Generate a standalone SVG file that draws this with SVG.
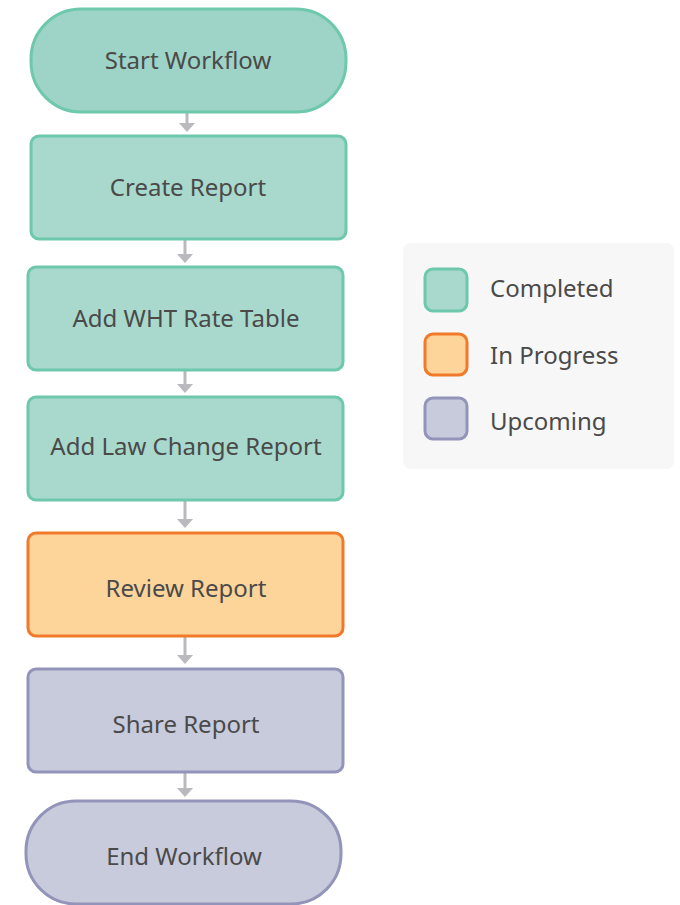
<svg xmlns="http://www.w3.org/2000/svg" width="680" height="905" viewBox="0 0 680 905">
<defs>
<style>
.lbl{font-family:"Noto Sans","Liberation Sans",sans-serif;font-size:24px;fill:#4a4a4a;text-anchor:middle}
.leg{font-family:"Noto Sans","Liberation Sans",sans-serif;font-size:24px;fill:#4a4a4a}
.done{fill:#a8d9cc;stroke:#6ec8ab;stroke-width:3}
.start{fill:#9dd4c7;stroke:#6ec8ab;stroke-width:3}
.prog{fill:#fdd49a;stroke:#f07a2a;stroke-width:3}
.up{fill:#c8cbdb;stroke:#9394b9;stroke-width:3}
.conn{stroke:#b9b9be;stroke-width:3;fill:none}
.head{fill:#b9b9be}
</style>
</defs>
<rect width="680" height="905" fill="#ffffff"/>
<g id="connectors">
<line class="conn" x1="187" y1="112" x2="187" y2="124"/><polygon class="head" points="179,123 195,123 187,132"/>
<line class="conn" x1="185" y1="240" x2="185" y2="255"/><polygon class="head" points="177,254 193,254 185,263"/>
<line class="conn" x1="185" y1="371" x2="185" y2="385"/><polygon class="head" points="177,384 193,384 185,393"/>
<line class="conn" x1="185" y1="501" x2="185" y2="520"/><polygon class="head" points="177,519 193,519 185,528"/>
<line class="conn" x1="185" y1="637" x2="185" y2="656"/><polygon class="head" points="177,655 193,655 185,664"/>
<line class="conn" x1="185" y1="773" x2="185" y2="789"/><polygon class="head" points="177,788 193,788 185,797"/>
</g>
<g id="start"><rect class="start" x="31" y="9" width="315" height="103" rx="50"/><text class="lbl" x="188" y="69">Start Workflow</text></g>
<g id="create"><rect class="done" x="31" y="136" width="315" height="103" rx="8"/><text class="lbl" x="188" y="196">Create Report</text></g>
<g id="wht"><rect class="done" x="28" y="267" width="315" height="103" rx="8"/><text class="lbl" x="186" y="327">Add WHT Rate Table</text></g>
<g id="law"><rect class="done" x="28" y="397" width="315" height="103" rx="8"/><text class="lbl" x="186" y="455">Add Law Change Report</text></g>
<g id="review"><rect class="prog" x="28" y="533" width="315" height="103" rx="8"/><text class="lbl" x="186" y="597">Review Report</text></g>
<g id="share"><rect class="up" x="28" y="669" width="315" height="103" rx="8"/><text class="lbl" x="186" y="733">Share Report</text></g>
<g id="end"><rect class="up" x="26" y="801" width="315" height="103" rx="50"/><text class="lbl" x="184" y="865">End Workflow</text></g>
<g id="legend">
<rect x="403" y="243" width="271" height="226" rx="8" fill="#f7f7f7"/>
<rect class="done" x="425" y="269" width="42" height="42" rx="8"/><text class="leg" x="490" y="297">Completed</text>
<rect class="prog" x="425" y="334" width="42" height="41" rx="8"/><text class="leg" x="490" y="364">In Progress</text>
<rect class="up" x="425" y="398" width="42" height="41" rx="8"/><text class="leg" x="490" y="430">Upcoming</text>
</g>
</svg>
